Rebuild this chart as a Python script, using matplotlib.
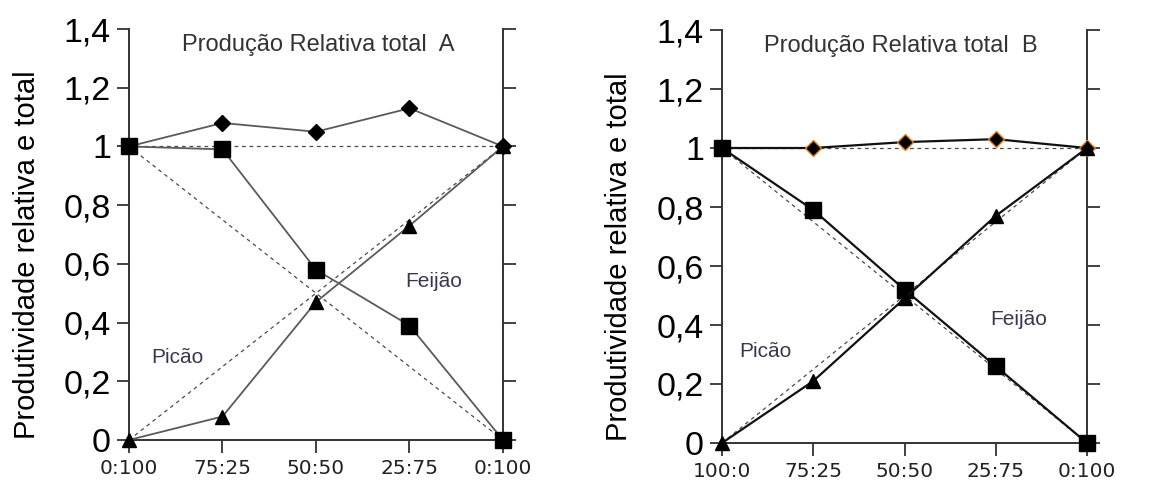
import matplotlib.pyplot as plt
import numpy as np

# proporções (picão:feijão)
labels_a = ['0:100', '75:25', '50:50', '25:75', '0:100']
labels_b = ['100:0', '75:25', '50:50', '25:75', '0:100']

total_a = [1.0, 1.08, 1.05, 1.13, 1.0]
feijao_a = [1.0, 0.99, 0.58, 0.39, 0.0]
picao_a = [0.0, 0.08, 0.47, 0.73, 1.0]

total_b = [1.0, 1.0, 1.02, 1.03, 1.0]
feijao_b = [1.0, 0.79, 0.52, 0.26, 0.0]
picao_b = [0.0, 0.21, 0.49, 0.77, 1.0]

yticks = [0, 0.2, 0.4, 0.6, 0.8, 1.0, 1.2, 1.4]
ytick_labels = ['0', '0,2', '0,4', '0,6', '0,8', '1', '1,2', '1,4']

fig = plt.figure(figsize=(11.63, 4.92), dpi=100)
ax_a = fig.add_axes([0.1109, 0.1057, 0.3216, 0.8353])
ax_b = fig.add_axes([0.6208, 0.0996, 0.3139, 0.8394])


def draw_panel(ax, labels, total, feijao, picao, title, line_col, lw,
               diamond_edge, picao_xy, feijao_xy, title_x):
    x = np.arange(len(labels))
    # linhas de referência (produção esperada)
    for y0, y1 in [(1, 0), (0, 1), (1, 1)]:
        ax.plot([x[0], x[-1]], [y0, y1], ls=(0, (3, 3)), color='#4a4a4a', lw=0.9)

    ax.plot(x, total, color=line_col, lw=lw, marker='D', ms=8.5,
            mfc='black', mec=diamond_edge, mew=1.0, clip_on=False, zorder=4)
    ax.plot(x, feijao, color=line_col, lw=lw, marker='s', ms=11,
            mfc='black', mec='black', clip_on=False, zorder=4)
    ax.plot(x, picao, color=line_col, lw=lw, marker='^', ms=10,
            mfc='black', mec='black', clip_on=False, zorder=4)

    ax.set_xlim(0, 4)
    ax.set_ylim(0, 1.4)
    ax.set_yticks(yticks)
    ax.set_yticklabels(ytick_labels, fontsize=24.5, family='Liberation Sans')
    ax.set_xticks(x)
    ax.set_xticklabels(labels, fontsize=14.5, family='DejaVu Sans', color='#222222')

    ax.spines['top'].set_visible(False)
    for s in ['left', 'right', 'bottom']:
        ax.spines[s].set_color('#333333')
        ax.spines[s].set_linewidth(1.4)
    ax.tick_params(axis='y', direction='out', length=9, width=1.3,
                   color='#333333', pad=4, right=True)
    ax.tick_params(axis='x', direction='out', length=9, width=1.3,
                   color='#333333', pad=5)

    ax.text(title_x, 1.345, title, ha='center', va='center', fontsize=17,
            family='Liberation Sans', color='#333333')
    ax.text(picao_xy[0], picao_xy[1], 'Picão', ha='center', va='center',
            fontsize=15, family='Liberation Sans', color='#3b3650')
    ax.text(feijao_xy[0], feijao_xy[1], 'Feijão', ha='center', va='center',
            fontsize=15, family='Liberation Sans', color='#3b3650')

    ax.set_ylabel('Produtividade relativa e total', fontsize=21,
                  family='Liberation Sans')


draw_panel(ax_a, labels_a, total_a, feijao_a, picao_a,
           'Produção Relativa total  A', '#5a5a5a', 1.3, 'black',
           (0.52, 0.28), (3.26, 0.54), 2.02)
draw_panel(ax_b, labels_b, total_b, feijao_b, picao_b,
           'Produção Relativa total  B', '#111111', 1.6, '#e0802a',
           (0.47, 0.31), (3.25, 0.42), 1.96)

ax_a.yaxis.set_label_coords(-0.236, 0.45)
ax_b.yaxis.set_label_coords(-0.245, 0.45)

fig.savefig('out.png', dpi=100)
